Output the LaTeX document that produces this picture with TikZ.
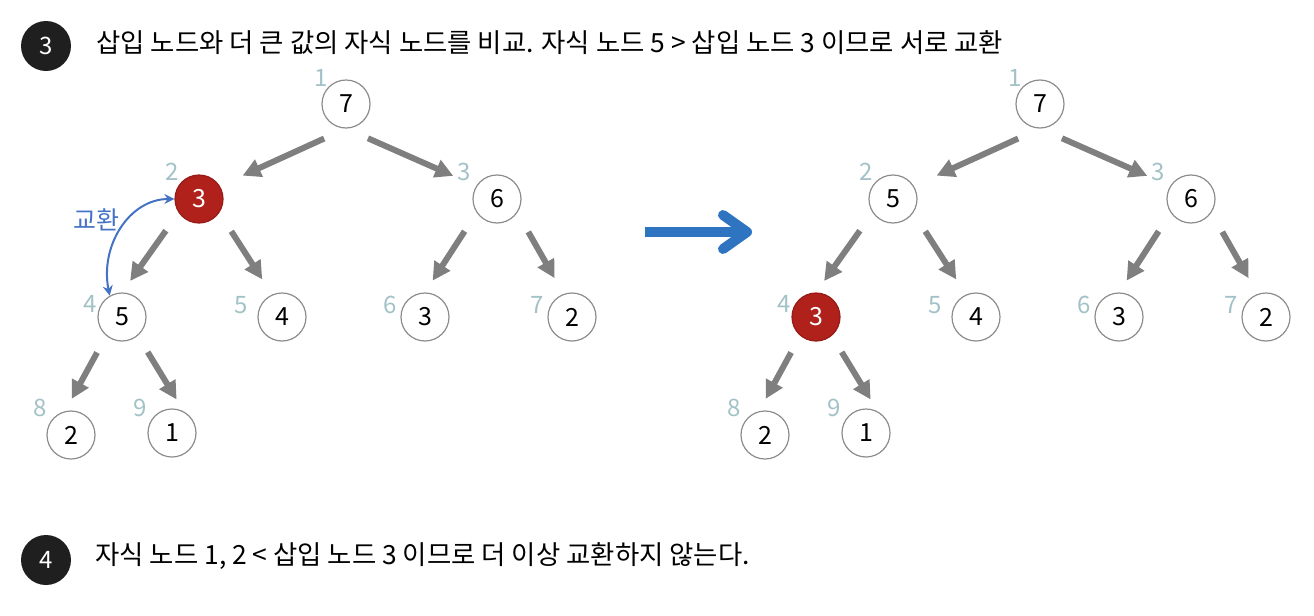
\documentclass[tikz,border=0pt]{standalone}
\usepackage{fontspec}
\setmainfont{Noto Sans CJK KR}
\usepackage{xcolor}
\usetikzlibrary{positioning,arrows.meta}
\definecolor{heapred}{HTML}{B0211C}
\definecolor{keyline}{HTML}{8C8C8C}
\definecolor{idxcol}{HTML}{A3C2C7}
\definecolor{edgegray}{HTML}{7F7F7F}
\definecolor{swapblue}{HTML}{4472C4}
\definecolor{moveblue}{HTML}{2E74C0}

\begin{document}
\begin{tikzpicture}[x=0.5pt,y=-0.5pt,
  key/.style={circle,draw=keyline,line width=0.6pt,minimum size=24pt,inner sep=0pt,font=\fontsize{12.5}{14}\selectfont},
  hot/.style={key,fill=heapred,draw=heapred!85!black,text=white},
  idx/.style={text=idxcol,inner sep=0pt,font=\fontsize{12}{14}\selectfont},
  edge/.style={draw=edgegray,line width=3pt,-{Triangle[length=9pt,width=9pt]}},
  stepnum/.style={circle,fill=black!88,text=white,minimum size=25pt,inner sep=0pt,font=\fontsize{12}{14}\selectfont},
  caption/.style={anchor=west,inner sep=0pt,font=\fontsize{13.2}{16}\selectfont}]
\useasboundingbox (0,0) rectangle (1314,616);

% step 3
\node[stepnum] (n3) at (46,46) {3};
\node[caption] (cap3) at (96,43) {삽입 노드와 더 큰 값의 자식 노드를 비교. 자식 노드 5 > 삽입 노드 3 이므로 서로 교환};

% heap before the swap
\node[key] (a1) at (346,104) {7};
\node[hot] (a2) at (199,199) {3};
\node[key] (a3) at (497,199) {6};
\node[key] (a4) at (122,317) {5};
\node[key] (a5) at (282,317) {4};
\node[key] (a6) at (425,317) {3};
\node[key] (a7) at (572,317) {2};
\node[key] (a8) at (71,435) {2};
\node[key] (a9) at (172,433) {1};

\node[idx] (a1i) at (321,78) {1};
\node[idx] (a2i) at (172,172) {2};
\node[idx] (a3i) at (464,172) {3};
\node[idx] (a4i) at (90,304) {4};
\node[idx] (a5i) at (241,305) {5};
\node[idx] (a6i) at (390,305) {6};
\node[idx] (a7i) at (537,305) {7};
\node[idx] (a8i) at (40,408) {8};
\node[idx] (a9i) at (140,408) {9};

% heap after the swap
\node[key] (b1) at (1040,104) {7};
\node[key] (b2) at (893,199) {5};
\node[key] (b3) at (1191,199) {6};
\node[hot] (b4) at (816,317) {3};
\node[key] (b5) at (976,317) {4};
\node[key] (b6) at (1119,317) {3};
\node[key] (b7) at (1266,317) {2};
\node[key] (b8) at (765,435) {2};
\node[key] (b9) at (866,433) {1};

\node[idx] (b1i) at (1015,78) {1};
\node[idx] (b2i) at (866,172) {2};
\node[idx] (b3i) at (1158,172) {3};
\node[idx] (b4i) at (784,304) {4};
\node[idx] (b5i) at (935,305) {5};
\node[idx] (b6i) at (1084,305) {6};
\node[idx] (b7i) at (1231,305) {7};
\node[idx] (b8i) at (734,408) {8};
\node[idx] (b9i) at (834,408) {9};

% parent -> child, out angle / in angle / gaps
\foreach \t in {a,b}
  \foreach \p/\c/\o/\i/\s/\e in {1/2/270/32/12/12.5,1/3/270/148/12/12.5,
      2/4/214/90/11/7,2/5/326/114/11/9,3/6/214/90/11/7,3/7/326/110/11/9,
      4/8/230/104/9.5/7,4/9/310/61/9.5/7}
    \draw[edge,shorten <=\s pt,shorten >=\e pt] (\t\p.\o) -- (\t\c.\i);

% swap marker
\draw[swapblue,line width=1pt,{Stealth[length=5pt,width=5pt]}-{Stealth[length=5pt,width=5pt]}]
  (a2.west) .. controls +(-45,0) and +(-10,-50) .. (a4.120);
\node[text=swapblue,inner sep=0pt,font=\fontsize{12.5}{14}\selectfont] (swaptxt) at (97,220) {교환};

% before -> after
\coordinate (go) at (645,232);
\coordinate (arrive) at (752,232);
\draw[moveblue,line width=5pt,-{Straight Barb[length=12pt,width=17pt,line cap=round,line join=round]}] (go) -- (arrive);

% step 4
\node[stepnum] (n4) at (46,560) {4};
\node[caption] (cap4) at (95,556) {자식 노드 1, 2 < 삽입 노드 3 이므로 더 이상 교환하지 않는다.};
\end{tikzpicture}
\end{document}
